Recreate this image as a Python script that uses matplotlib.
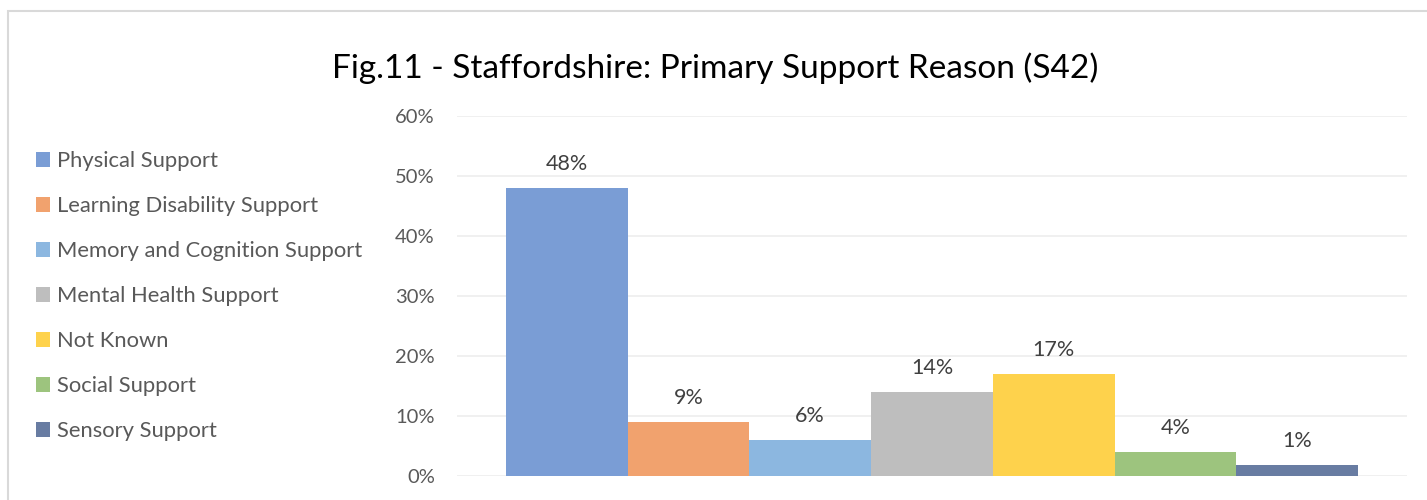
import matplotlib
matplotlib.use("Agg")
from matplotlib import pyplot as plt
from matplotlib.patches import Rectangle

categories = ["Physical Support",
              "Learning Disability Support",
              "Memory and Cognition Support",
              "Mental Health Support",
              "Not Known",
              "Social Support",
              "Sensory Support"]
values = [48, 9, 6, 14, 17, 4, 1.9]
value_labels = ["48%", "9%", "6%", "14%", "17%", "4%", "1%"]
colors = ["#7A9DD5", "#F1A26E", "#8CB7E0", "#BEBEBE",
          "#FED24C", "#9DC47E", "#687CA2"]
yticks = [0, 10, 20, 30, 40, 50, 60]

plt.rcParams['font.family'] = ['Lato', 'DejaVu Sans']

W, H = 1427, 500
fig = plt.figure(figsize=(W / 100, H / 100), dpi=100)
ax = fig.add_axes([457 / W, 24 / H, 950 / W, 360 / H])

for i, (cat, v, c) in enumerate(zip(categories, values, colors)):
    ax.bar(i, v, width=1.0, color=c, label=cat)
    ax.text(i, v + 2.3, value_labels[i], ha="center", va="bottom",
            fontsize=15.5, color="#404040")

ax.set_xlim(-0.9, 6.9)
ax.set_ylim(0, 60)
ax.set_yticks(yticks)
ax.set_yticklabels([f"{t}%" for t in yticks], fontsize=14.5, color="#595959")
ax.set_xticks([])
ax.tick_params(axis="y", length=0, pad=16)
ax.grid(axis="y", color="#EDEDED", lw=1.2)
ax.set_axisbelow(True)
for s in ax.spines.values():
    s.set_visible(False)

fig.text(715 / W, 1 - 68 / H, "Fig.11 - Staffordshire: Primary Support Reason (S42)",
         ha="center", va="center", fontsize=24, color="black")

handles, labels = ax.get_legend_handles_labels()
fig.legend(handles, labels, loc="upper left", bbox_to_anchor=(36 / W, 1 - 151 / H),
           frameon=False, fontsize=15.8, labelcolor="#595959",
           borderaxespad=0, borderpad=0,
           handlelength=0.64, handleheight=0.64, handletextpad=0.3,
           labelspacing=1.14)

fig.patches.append(Rectangle((8 / W, -0.1), 1.2, 1 - 11 / H + 0.1,
                             transform=fig.transFigure, fill=False,
                             edgecolor="#D9D9D9", lw=1.5))

fig.savefig("out.png", dpi=100)
